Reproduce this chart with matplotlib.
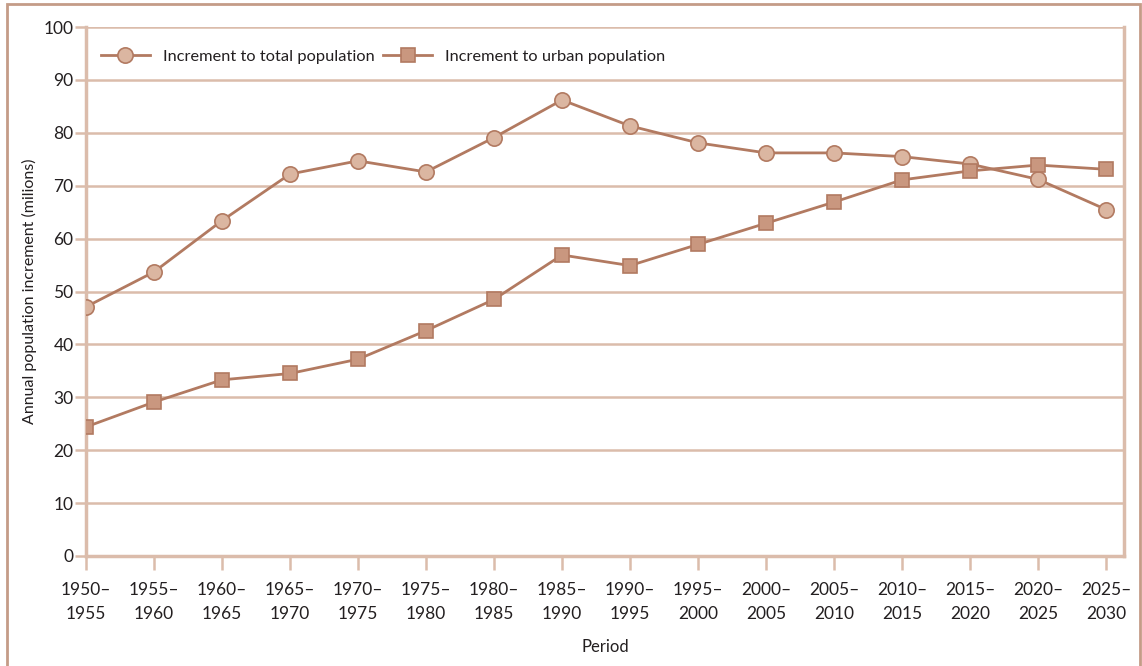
import matplotlib
matplotlib.use('Agg')
import matplotlib.pyplot as plt
from matplotlib.patches import Rectangle

periods = ["1950–\n1955", "1955–\n1960", "1960–\n1965", "1965–\n1970", "1970–\n1975",
           "1975–\n1980", "1980–\n1985", "1985–\n1990", "1990–\n1995", "1995–\n2000",
           "2000–\n2005", "2005–\n2010", "2010–\n2015", "2015–\n2020", "2020–\n2025",
           "2025–\n2030"]
total_inc = [47.1, 53.7, 63.4, 72.2, 74.7, 72.6, 79.1, 86.2, 81.3, 78.1,
             76.2, 76.2, 75.5, 74.1, 71.2, 65.5]
urban_inc = [24.4, 29.1, 33.3, 34.5, 37.2, 42.6, 48.5, 56.9, 54.9, 58.9,
             62.9, 66.9, 71.1, 72.8, 73.9, 73.1]

line_col = "#b27a61"
grid_col = "#dbbcab"
txt_col = "#231f20"

plt.rcParams['font.family'] = ['Lato', 'DejaVu Sans']

fig = plt.figure(figsize=(11.42, 6.66), dpi=100)
ax = fig.add_axes([86/1142, 1-556/666, (1124-86)/1142, (556-27)/666])

x = list(range(len(periods)))
ax.plot(x, total_inc, color=line_col, lw=2, marker='o', ms=11,
        mfc="#dbb6a1", mec=line_col, mew=1.2, label="Increment to total population", zorder=3)
ax.plot(x, urban_inc, color=line_col, lw=2, marker='s', ms=10,
        mfc="#c9977f", mec=line_col, mew=1.2, label="Increment to urban population", zorder=3)

ax.set_xlim(0, 15 + 18/68)
ax.set_ylim(0, 100)
ax.set_yticks(range(0, 101, 10))
ax.set_xticks(x)
ax.set_xticklabels(periods)
ax.grid(axis='y', color=grid_col, lw=1.8)
ax.set_axisbelow(True)

for s in ['left', 'bottom', 'right']:
    ax.spines[s].set_color(grid_col)
    ax.spines[s].set_linewidth(2.5)
ax.spines['top'].set_visible(False)

ax.tick_params(axis='y', colors=grid_col, labelcolor=txt_col, length=8, width=1.8,
               labelsize=12.5, pad=1)
ax.tick_params(axis='x', colors=grid_col, labelcolor=txt_col, length=10, width=1.8,
               labelsize=12.5, pad=9)
for lbl in ax.get_xticklabels():
    lbl.set_linespacing(1.6)

ax.set_ylabel("Annual population increment (milions)", fontsize=11.5, color=txt_col, labelpad=5)
ax.set_xlabel("Period", fontsize=12, color=txt_col, labelpad=12)

leg = ax.legend(loc='upper left', ncol=2, frameon=False, fontsize=11.8,
                bbox_to_anchor=(0.0, 0.985), handlelength=3.0, columnspacing=0.5,
                handletextpad=0.8)
for t in leg.get_texts():
    t.set_color(txt_col)

fig.patches.append(Rectangle((7/1142, -0.05), (1140-7)/1142, 1.05 - 4/666,
                             transform=fig.transFigure, fill=False,
                             edgecolor="#c49c87", lw=2, zorder=0))

fig.savefig("out.png", dpi=100)
